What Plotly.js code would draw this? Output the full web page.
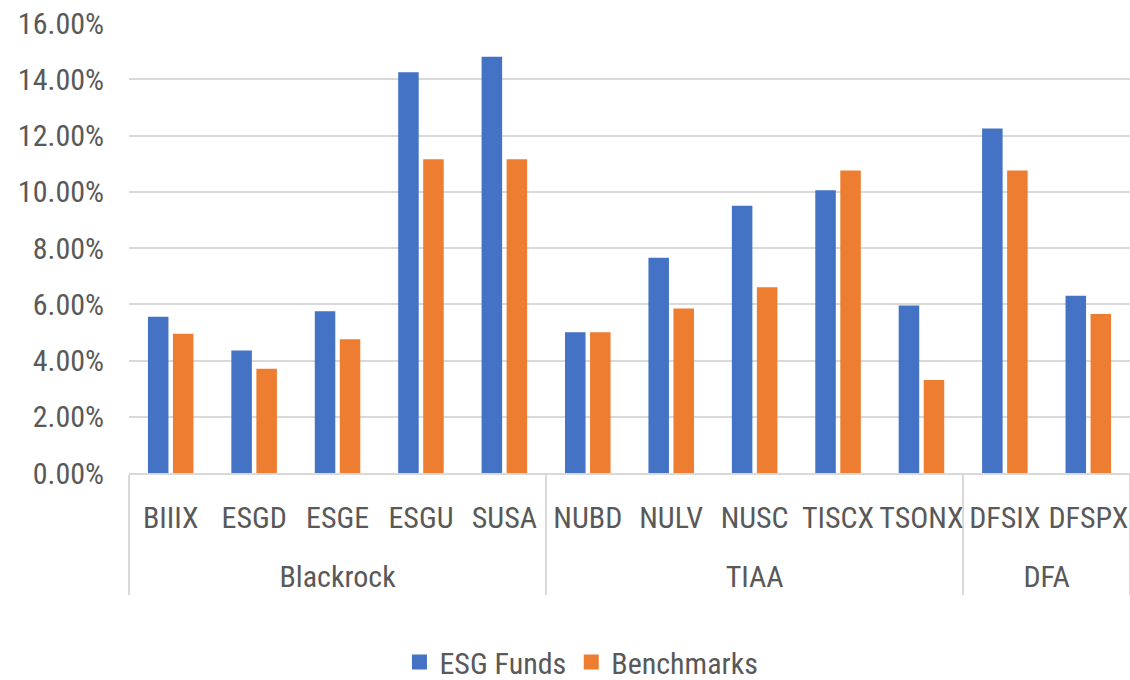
<!DOCTYPE html>
<html>
<head>
<meta charset="utf-8">
<script src="https://cdn.plot.ly/plotly-3.0.1.min.js"></script>
<style>
  html, body { margin: 0; padding: 0; background: #ffffff; overflow: hidden; }
  #chart { width: 1130px; height: 680px; }
</style>
</head>
<body>
<div id="chart"></div>
<script>
// Fund families and tickers (two-level category axis)
const families = ["Blackrock", "Blackrock", "Blackrock", "Blackrock", "Blackrock",
                  "TIAA", "TIAA", "TIAA", "TIAA", "TIAA",
                  "DFA", "DFA"];
const tickers = ["BIIIX", "ESGD", "ESGE", "ESGU", "SUSA",
                 "NUBD", "NULV", "NUSC", "TISCX", "TSONX",
                 "DFSIX", "DFSPX"];

// Returns, as fractions
const esgFunds   = [0.055, 0.043, 0.057, 0.142, 0.1475, 0.0495, 0.076, 0.0945, 0.100, 0.059, 0.122, 0.0625];
const benchmarks = [0.049, 0.0365, 0.047, 0.111, 0.111, 0.0495, 0.058, 0.0655, 0.107, 0.0325, 0.107, 0.056];

const FONT = '"Liberation Sans Narrow", "Arial Narrow", "Roboto Condensed", "Liberation Sans", sans-serif';
const GREY_TEXT = '#595959';
const GRID = '#d9d9d9';

// family row sits one line lower than the ticker row
const familyLabels = families.map(f => '<br>' + f);

const traces = [
  {
    type: 'bar',
    name: 'ESG Funds',
    x: [familyLabels, tickers],
    y: esgFunds,
    marker: { color: '#4472C4', line: { color: '#4472C4', width: 3 } }
  },
  {
    type: 'bar',
    name: 'Benchmarks',
    x: [familyLabels, tickers],
    y: benchmarks,
    marker: { color: '#ED7D31', line: { color: '#ED7D31', width: 3 } }
  }
];

const layout = {
  width: 1130,
  height: 680,
  margin: { l: 129, r: 0, t: 23, b: 207, autoexpand: false },
  paper_bgcolor: '#ffffff',
  plot_bgcolor: '#ffffff',
  font: { family: FONT, size: 30, color: GREY_TEXT },
  barmode: 'group',
  bargap: 0.4,
  bargroupgap: 0.3,
  showlegend: true,
  legend: {
    orientation: 'h',
    x: 0.452, xanchor: 'center',
    y: -0.42, yanchor: 'middle',
    font: { family: FONT, size: 30, color: GREY_TEXT },
    traceorder: 'normal'
  },
  xaxis: {
    type: 'multicategory',
    automargin: false,
    tickangle: 0,
    showgrid: false,
    showline: true,
    linecolor: GRID,
    linewidth: 2,
    ticks: '',
    ticklabelstandoff: 17,
    showdividers: true,
    dividercolor: GRID,
    dividerwidth: 2,
    tickfont: { family: FONT, size: 30, color: GREY_TEXT }
  },
  yaxis: {
    automargin: false,
    range: [0, 0.16],
    dtick: 0.02,
    tickformat: '.2%',
    showgrid: true,
    gridcolor: GRID,
    gridwidth: 2,
    zeroline: false,
    showline: false,
    ticks: '',
    ticklabelstandoff: 24,
    tickfont: { family: FONT, size: 30, color: GREY_TEXT }
  }
};

Plotly.newPlot('chart', traces, layout, { displayModeBar: false, staticPlot: true });
</script>
</body>
</html>
